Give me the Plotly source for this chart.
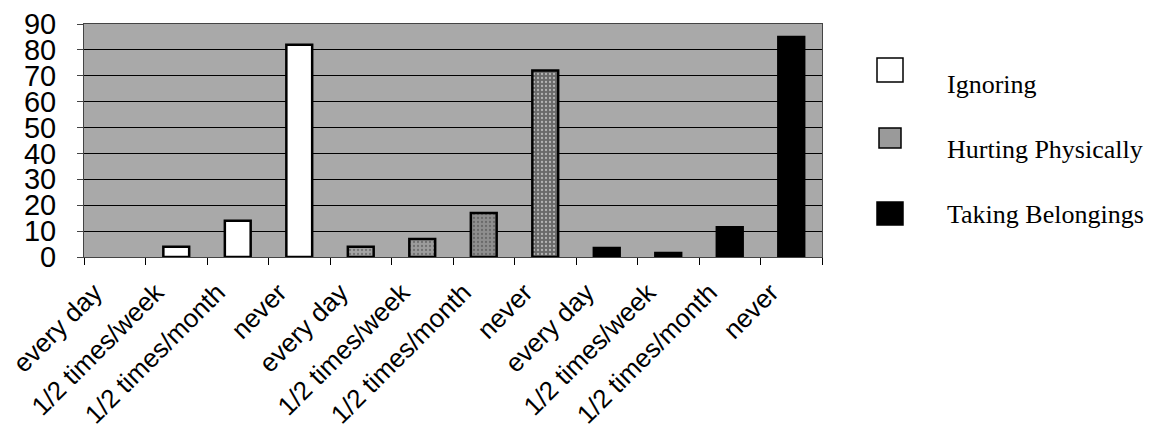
import plotly.graph_objects as go

categories = ["every day", "1/2 times/week", "1/2 times/month", "never"]
series_names = ["Ignoring", "Hurting Physically", "Taking Belongings"]
ignoring = [0, 4, 14, 82]
hurting = [4, 7, 17, 72]
taking = [3.5, 1.5, 11.5, 85]
y_ticks = [0, 10, 20, 30, 40, 50, 60, 70, 80, 90]

all_values = [ignoring, hurting, taking]
n_cat = len(categories)
tick_labels = categories * len(all_values)
tick_positions = list(range(len(tick_labels)))

# page body adds an 8px margin, so the figure is drawn 8px smaller and offset
OFF = 8
W, H = 1163 - OFF, 436 - OFF
PL, PR, PT, PB = 84 - OFF, 822 - OFF, 24 - OFF, 257 - OFF


def px_x(x):
    return (x - OFF - PL) / (PR - PL)


def px_y(y):
    return (PB - (y - OFF)) / (PB - PT)


fills = [
    dict(color="white"),
    dict(color=["#a4a4a4", "#9c9c9c", "#8e8e8e", "#6a6a6a"],
         pattern=dict(shape=".", fgcolor="#222222", size=4, solidity=0.25)),
    dict(color="black"),
]

fig = go.Figure()
for i, (name, vals) in enumerate(zip(series_names, all_values)):
    m = dict(fills[i])
    m["line"] = dict(color="black", width=[0 if v == 0 else 2.5 for v in vals])
    fig.add_trace(go.Bar(
        x=tick_positions[i * n_cat:(i + 1) * n_cat],
        y=vals,
        name=name,
        marker=m,
        width=0.42,
        showlegend=False,
    ))

# manual legend (symbol sits above the text like the original)
legend_sym = [(58, 82), (128, 148), (202, 225)]
legend_sym_x = [(877, 903), (879, 901), (877, 903)]
legend_txt_y = [84, 149, 214]
sym_fill = ["white", "#9a9a9a", "black"]
for i, name in enumerate(series_names):
    (sy0, sy1), (sx0, sx1) = legend_sym[i], legend_sym_x[i]
    fig.add_shape(type="rect", xref="paper", yref="paper",
                  x0=px_x(sx0), x1=px_x(sx1), y0=px_y(sy1), y1=px_y(sy0),
                  fillcolor=sym_fill[i], line=dict(color="black", width=1.5))
    fig.add_annotation(xref="paper", yref="paper", x=px_x(945), y=px_y(legend_txt_y[i]),
                       text=name, showarrow=False, xanchor="left", yanchor="middle",
                       font=dict(family="Liberation Serif", size=26, color="black"))

label_offset = 0.33  # labels sit a bit left of the bar centre, as in the original
fig.update_layout(
    width=W, height=H,
    margin=dict(l=PL, r=W - PR, t=PT, b=H - PB, autoexpand=False),
    paper_bgcolor="white",
    plot_bgcolor="#a9a9a9",
    xaxis=dict(
        range=[-0.5, len(tick_labels) - 0.5], automargin=False,
        tickmode="array", tickvals=[p - label_offset for p in tick_positions], ticktext=tick_labels,
        tickangle=-45, ticks="", showgrid=False, zeroline=False,
        ticklabelstandoff=9, ticklabeloverflow="allow",
        tickfont=dict(family="Liberation Sans", size=26, color="black"),
        minor=dict(ticks="outside", ticklen=7, tickcolor="black", tick0=-0.5, dtick=1, showgrid=False),
        showline=True, linecolor="#444444", linewidth=1, mirror=True,
    ),
    yaxis=dict(
        range=[0, 90], tickmode="array", tickvals=y_ticks, automargin=False,
        ticks="outside", ticklen=6, tickcolor="#444444",
        showgrid=True, gridcolor="black", gridwidth=1, zeroline=False,
        ticklabelstandoff=15,
        tickfont=dict(family="Liberation Sans", size=29, color="black"),
        showline=True, linecolor="#444444", linewidth=1, mirror=True,
    ),
)

fig.write_html("out.html")
